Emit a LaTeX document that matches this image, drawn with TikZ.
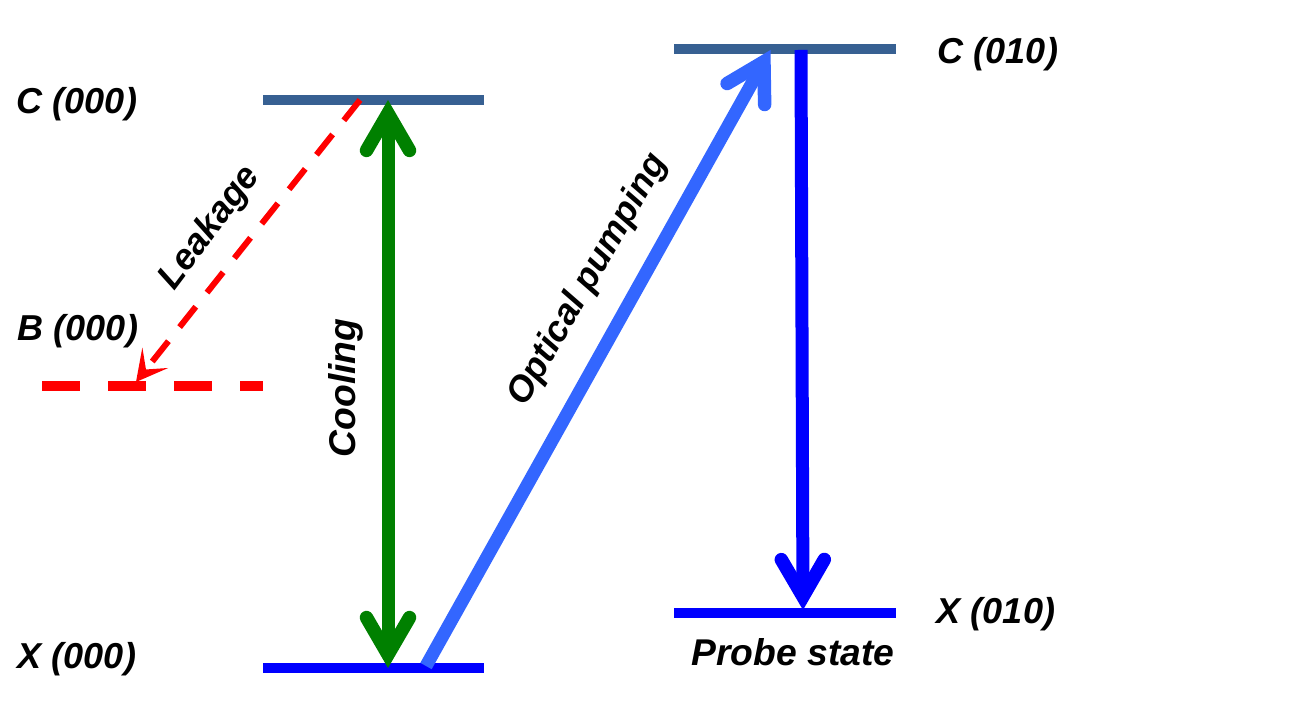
\documentclass[tikz,border=0pt]{standalone}
\usepackage{fontspec}
\setmainfont{Liberation Sans}
\usetikzlibrary{arrows.meta}
\definecolor{levelblue}{HTML}{376092}
\definecolor{pumpblue}{HTML}{3366FF}
\definecolor{coolgreen}{HTML}{008000}
\tikzset{
  openhead/.tip = {Straight Barb[length = .74cm, width = .86cm, line width = .27cm, line cap = round, line join = miter]},
  level/.style = {line width = .2cm},
  transition/.style = {line width = .26cm},
  tag/.style = {font = \fontsize{21.2}{25}\selectfont\bfseries\itshape}
}

\begin{document}
\begin{tikzpicture}[every node/.style = {font = \fontsize{20.5}{24}\selectfont\bfseries\itshape, inner sep = 0pt}]
    \useasboundingbox (0, 0) rectangle (25.86, 14.32);
    \coordinate (C0L) at (5.26, 12.32);
    \coordinate (C0R) at (9.68, 12.32);
    \coordinate (B0L) at (.84, 6.6);
    \coordinate (B0R) at (5.26, 6.6);
    \coordinate (X0L) at (5.26, .96);
    \coordinate (X0R) at (9.68, .96);
    \coordinate (C1L) at (13.48, 13.34);
    \coordinate (C1R) at (17.92, 13.34);
    \coordinate (X1L) at (13.48, 2.06);
    \coordinate (X1R) at (17.92, 2.06);
    \coordinate (CoolTop) at (7.76, 12.32);
    \coordinate (CoolBot) at (7.76, .96);
    \coordinate (LeakTop) at (7.2, 12.32);
    \coordinate (LeakBot) at (2.72, 6.68);
    \coordinate (PumpBot) at (8.52, 1);
    \coordinate (PumpTop) at (15.41, 13.32);
    \coordinate (ProbeTop) at (16.02, 13.32);
    \coordinate (ProbeBot) at (16.06, 2.12);

    \node (C0) at (1.54, 12.23) {C (000)};
    \node (B0) at (1.56, 7.7) {B (000)};
    \node (X0) at (1.54, 1.14) {X (000)};
    \node (C1) at (19.96, 13.24) {C (010)};
    \node (X1) at (19.92, 2.04) {X (010)};
    \node[tag] (Probe) at (15.86, 1.27) {Probe state};
    \node[rotate = 53] (Leak) at (4.2, 9.76) {Leakage};
    \node[tag, rotate = 90] (Cool) at (6.92, 6.56) {Cooling};
    \node[rotate = 60] (Pump) at (11.76, 8.72) {Optical pumping};

    \draw[level, levelblue] (C0L) -- (C0R);
    \draw[level, red, dash pattern = on .76cm off .56cm] (B0L) -- (B0R);
    \draw[level, blue] (X0L) -- (X0R);
    \draw[level, levelblue] (C1L) -- (C1R);
    \draw[level, blue] (X1L) -- (X1R);

    \draw[red, line width = .12cm, dash pattern = on .52cm off .36cm, -{Stealth[length = .62cm, width = .66cm, inset = .3cm, line width = 0pt]}] (LeakTop) -- (LeakBot);
    \draw[transition, coolgreen, {openhead}-{openhead}] (CoolBot) -- (CoolTop);
    \draw[transition, pumpblue, -{openhead}] (PumpBot) -- (PumpTop);
    \draw[transition, blue, -{openhead}] (ProbeTop) -- (ProbeBot);
\end{tikzpicture}
\end{document}
